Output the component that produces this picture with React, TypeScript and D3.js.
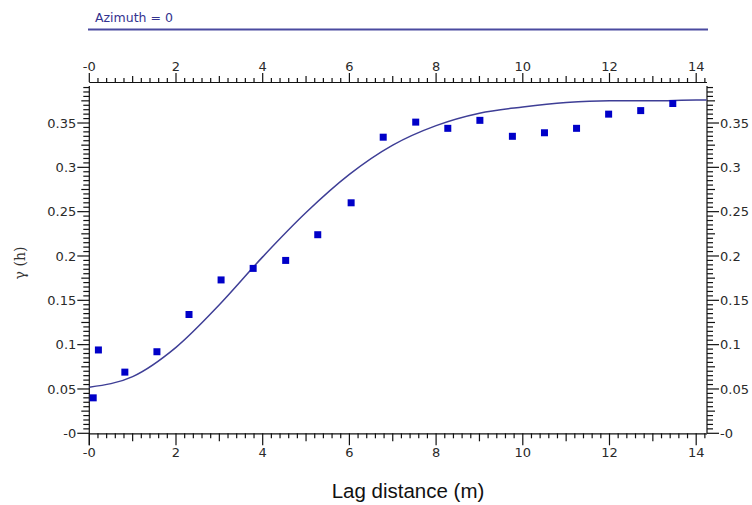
import { useEffect, useRef } from 'react';
import * as d3 from 'd3';

// experimental variogram (lag distance in m, semivariance)
const lagDistance = [0.09, 0.21, 0.82, 1.56, 2.3, 3.04, 3.78, 4.53, 5.27, 6.04, 6.78, 7.53, 8.27, 9.01, 9.76, 10.5, 11.24, 11.98, 12.72, 13.46];
const gammaValues = [0.040, 0.094, 0.069, 0.092, 0.134, 0.173, 0.186, 0.195, 0.224, 0.260, 0.334, 0.351, 0.344, 0.353, 0.335, 0.339, 0.344, 0.360, 0.364, 0.372];

// model curve
const modelLag = [0, 1, 2, 3, 4, 5, 6, 7, 8, 9, 10, 11, 12, 13, 14, 14.24];
const modelGamma = [0.052, 0.064, 0.097, 0.145, 0.199, 0.249, 0.292, 0.325, 0.347, 0.361, 0.368, 0.373, 0.375, 0.375, 0.376, 0.376];

const xTicks = [0, 2, 4, 6, 8, 10, 12, 14];
const xTickLabels = ['-0', '2', '4', '6', '8', '10', '12', '14'];
const yTicks = [0, 0.05, 0.1, 0.15, 0.2, 0.25, 0.3, 0.35];
const yTickLabels = ['-0', '0.05', '0.1', '0.15', '0.2', '0.25', '0.3', '0.35'];

const title = 'Azimuth = 0';
const xTitle = 'Lag distance (m)';
const yTitle = 'γ (h)';

export default function App() {
  const svgRef = useRef<SVGSVGElement>(null);

  useEffect(() => {
    if (!svgRef.current) return;
    const svg = d3.select(svgRef.current);
    svg.selectAll('*').remove();

    const left = 89.3, right = 707, top = 84, bottom = 433.3;
    const topAxisY = 82;

    const x = d3.scaleLinear().domain([0, 14.24]).range([left, 706.6]);
    const y = d3.scaleLinear().domain([0, 0.394]).range([bottom, top]);

    const axisColor = '#111';
    const labelColor = '#2a2a2a';
    const tickFont = '"DejaVu Sans", Verdana, sans-serif';

    // title and rule
    svg.append('text')
      .attr('x', 95).attr('y', 22)
      .attr('font-family', tickFont).attr('font-size', 12.5)
      .attr('fill', '#33338f')
      .text(title);
    svg.append('line')
      .attr('x1', 88).attr('x2', 708).attr('y1', 29.5).attr('y2', 29.5)
      .attr('stroke', '#4a4aa0').attr('stroke-width', 1.8);

    const xMinor = d3.range(0, 14.21, 0.2);
    const yMinor = d3.range(0, 0.3941, 0.005);
    const tickLen = (v: number, mid: number, major: number, lens: number[]) => {
      const r = (a: number, b: number) => Math.abs(a / b - Math.round(a / b)) < 1e-6;
      if (r(v, major)) return lens[2];
      if (r(v, mid)) return lens[1];
      return lens[0];
    };

    const g = svg.append('g').attr('stroke', axisColor).attr('stroke-width', 1.2);

    // bottom axis
    g.append('line').attr('x1', left).attr('x2', right).attr('y1', bottom + 0.5).attr('y2', bottom + 0.5);
    xMinor.forEach(v => {
      const L = tickLen(v, 1, 2, [5, 8, 12]);
      g.append('line').attr('x1', x(v)).attr('x2', x(v)).attr('y1', bottom).attr('y2', bottom + L);
    });
    // top axis
    g.append('line').attr('x1', left).attr('x2', right).attr('y1', topAxisY + 0.5).attr('y2', topAxisY + 0.5);
    xMinor.forEach(v => {
      const L = tickLen(v, 1, 2, [4, 6, 9]);
      g.append('line').attr('x1', x(v)).attr('x2', x(v)).attr('y1', topAxisY).attr('y2', topAxisY - L);
    });
    // left axis
    g.append('line').attr('x1', left).attr('x2', left).attr('y1', top + 2).attr('y2', bottom + 12);
    yMinor.forEach(v => {
      const L = tickLen(v, 0.025, 0.05, [6, 8, 12]);
      g.append('line').attr('x1', left).attr('x2', left - L).attr('y1', y(v)).attr('y2', y(v));
    });
    // right axis
    g.append('line').attr('x1', right).attr('x2', right).attr('y1', top + 2).attr('y2', bottom);
    yMinor.forEach(v => {
      const L = tickLen(v, 0.025, 0.05, [6, 8, 12]);
      g.append('line').attr('x1', right).attr('x2', right + L).attr('y1', y(v)).attr('y2', y(v));
    });

    const labels = svg.append('g')
      .attr('font-family', tickFont).attr('font-size', 13).attr('fill', labelColor);
    xTicks.forEach((v, i) => {
      labels.append('text').attr('x', x(v)).attr('y', bottom + 24)
        .attr('text-anchor', 'middle').text(xTickLabels[i]);
      labels.append('text').attr('x', x(v)).attr('y', topAxisY - 11)
        .attr('text-anchor', 'middle').text(xTickLabels[i]);
    });
    yTicks.forEach((v, i) => {
      labels.append('text').attr('x', left - 13).attr('y', y(v)).attr('dy', '0.36em')
        .attr('text-anchor', 'end').text(yTickLabels[i]);
      labels.append('text').attr('x', right + 13).attr('y', y(v)).attr('dy', '0.36em')
        .attr('text-anchor', 'start').text(yTickLabels[i]);
    });

    // model curve
    const curvePts = modelLag.map((d, i) => [d, modelGamma[i]] as [number, number]);
    const line = d3.line<[number, number]>()
      .x(d => x(d[0]))
      .y(d => y(d[1]))
      .curve(d3.curveMonotoneX);
    svg.append('path')
      .datum(curvePts)
      .attr('fill', 'none')
      .attr('stroke', '#3e3e96')
      .attr('stroke-width', 1.5)
      .attr('d', line);

    // experimental points
    const s = 7;
    svg.append('g').selectAll('rect')
      .data(lagDistance.map((d, i) => [d, gammaValues[i]]))
      .enter().append('rect')
      .attr('x', d => x(d[0]) - s / 2)
      .attr('y', d => y(d[1]) - s / 2)
      .attr('width', s).attr('height', s)
      .attr('fill', '#0000c8');

    // axis titles
    svg.append('text')
      .attr('x', 408).attr('y', 498)
      .attr('text-anchor', 'middle')
      .attr('font-family', '"Liberation Sans", Arial, sans-serif')
      .attr('font-size', 20.5)
      .attr('fill', '#111')
      .text(xTitle);
    svg.append('text')
      .attr('transform', 'translate(25,263) rotate(-90)')
      .attr('text-anchor', 'middle')
      .attr('font-family', '"DejaVu Serif", serif')
      .attr('font-size', 14)
      .attr('fill', '#333')
      .text(yTitle);
  }, []);

  return (
    <svg ref={svgRef} width={752} height={505}
      style={{ position: 'absolute', left: 0, top: 0, background: '#fff' }} />
  );
}
